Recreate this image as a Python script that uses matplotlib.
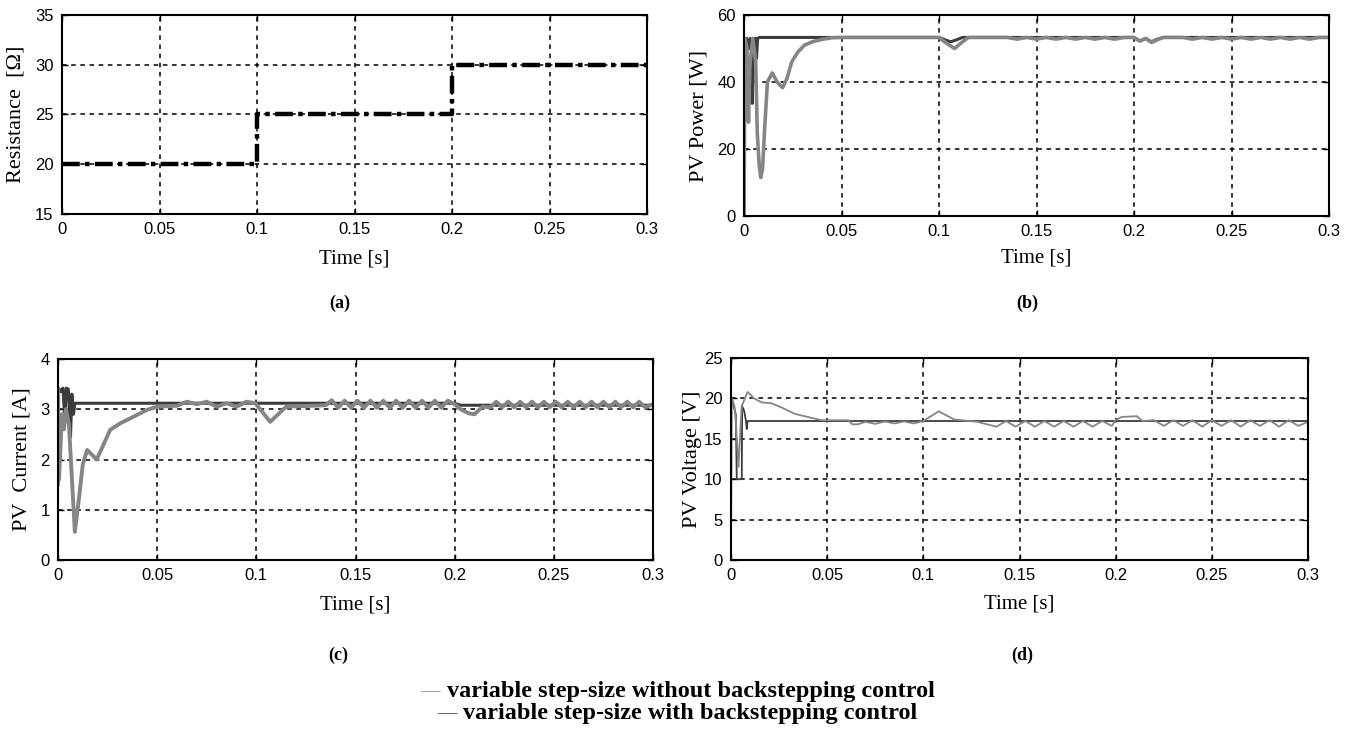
import matplotlib
matplotlib.use("Agg")
import matplotlib.pyplot as plt

# ---- data ----
res_t = [0, 0.1, 0.1, 0.2, 0.2, 0.3]
res_val = [20, 20, 25, 25, 30, 30]

# PV power, with backstepping (dark)
pw_bs_t = [0, 0.0002, 0.0015, 0.0025, 0.0032, 0.0038, 0.0042, 0.0048, 0.0055, 0.006, 0.0064, 0.007,
           0.0078, 0.1, 0.103, 0.106, 0.109, 0.112, 0.2, 0.203, 0.206, 0.209, 0.212, 0.215, 0.3]
pw_bs = [0, 53, 53, 50, 53, 52, 33.6, 45, 53, 53, 47, 53,
         53.3, 53.3, 52.6, 52.0, 52.6, 53.3, 53.3, 52.3, 53.0, 52.0, 52.8, 53.3, 53.3]

# PV power, without backstepping (gray)
pw_nb_t = [0, 0.0005, 0.0015, 0.0023, 0.003, 0.0045, 0.006, 0.0068, 0.0078, 0.0086, 0.0095, 0.0105,
           0.012, 0.0145, 0.017, 0.0198, 0.022, 0.0245, 0.0277, 0.031, 0.035, 0.039, 0.045, 0.05,
           0.06, 0.1, 0.104, 0.108, 0.111, 0.115, 0.135, 0.14, 0.145, 0.15, 0.155, 0.16, 0.165,
           0.17, 0.175, 0.18, 0.185, 0.19, 0.195, 0.2, 0.203, 0.206, 0.209, 0.212, 0.215, 0.225,
           0.23, 0.235, 0.24, 0.245, 0.25, 0.255, 0.26, 0.265, 0.27, 0.275, 0.28, 0.285, 0.29,
           0.295, 0.3]
pw_nb = [0, 53, 50, 28, 45, 53, 46, 25, 15, 11.5, 14, 25,
         40, 42.7, 40, 38.3, 41, 46, 49, 51, 52, 52.6, 53.2, 53.3,
         53.3, 53.3, 51.5, 50.0, 51.5, 53.3, 53.3, 52.8, 53.3, 52.8, 53.3, 52.8, 53.3,
         52.8, 53.3, 52.8, 53.3, 52.8, 53.3, 53.3, 52.2, 53.0, 51.8, 52.6, 53.3, 53.3,
         52.8, 53.3, 52.8, 53.3, 52.8, 53.3, 52.8, 53.3, 52.8, 53.3, 52.8, 53.3, 52.8,
         53.3, 53.3]

# PV current, with backstepping (dark)
cur_bs_t = [0, 0.0003, 0.0015, 0.0025, 0.0034, 0.0042, 0.0052, 0.0063, 0.007, 0.0078, 0.0085,
            0.2, 0.203, 0.3]
cur_bs = [1.5, 3.42, 3.35, 3.42, 2.8, 3.42, 3.4, 2.45, 3.3, 2.9, 3.12,
          3.12, 3.08, 3.08]

# PV current, without backstepping (gray)
cur_nb_t = [0, 0.0005, 0.002, 0.003, 0.004, 0.0055, 0.0085, 0.0105, 0.0125, 0.0147, 0.017,
            0.0195, 0.023, 0.0263, 0.0314, 0.038, 0.045, 0.05, 0.06, 0.065, 0.07, 0.075, 0.08,
            0.085, 0.09, 0.095, 0.0995, 0.107, 0.115, 0.135, 0.138, 0.1413, 0.1445, 0.1478,
            0.151, 0.1543, 0.1575, 0.1608, 0.164, 0.1673, 0.1705, 0.1738, 0.177, 0.1803, 0.1835,
            0.1868, 0.19, 0.1933, 0.1965, 0.2, 0.203, 0.207, 0.21, 0.214, 0.218, 0.221, 0.224,
            0.227, 0.23, 0.233, 0.236, 0.239, 0.242, 0.245, 0.248, 0.251, 0.254, 0.257, 0.26,
            0.263, 0.266, 0.269, 0.272, 0.275, 0.278, 0.281, 0.284, 0.287, 0.29, 0.293, 0.296,
            0.3]
cur_nb = [3.4, 1.6, 2.9, 2.6, 3.0, 2.7, 0.56, 1.2, 1.9, 2.19, 2.1,
          2.0, 2.3, 2.59, 2.72, 2.85, 2.99, 3.05, 3.07, 3.15, 3.1, 3.15, 3.05,
          3.12, 3.05, 3.15, 3.12, 2.75, 3.05, 3.08, 3.18, 3.03, 3.17, 3.03,
          3.17, 3.03, 3.17, 3.03, 3.17, 3.03, 3.17, 3.03, 3.17, 3.03, 3.17,
          3.03, 3.17, 3.03, 3.17, 3.1, 3.0, 2.92, 2.9, 3.05, 3.04, 3.15, 3.04,
          3.15, 3.04, 3.15, 3.04, 3.15, 3.04, 3.15, 3.04, 3.15, 3.04, 3.15, 3.04,
          3.15, 3.04, 3.15, 3.04, 3.15, 3.04, 3.15, 3.04, 3.15, 3.04, 3.15, 3.04,
          3.1]

# PV voltage, with backstepping (dark)
vt_bs_t = [0, 0.0002, 0.001, 0.0025, 0.003, 0.0056, 0.0058, 0.0068, 0.0078, 0.0082, 0.0086, 0.3]
vt_bs = [0, 20, 19.5, 18, 10, 10, 19, 18.5, 17.2, 16.2, 17.2, 17.2]

# PV voltage, without backstepping (gray)
vt_nb_t = [0, 0.0003, 0.0012, 0.0018, 0.0024, 0.0039, 0.0055, 0.0086, 0.012, 0.016, 0.021, 0.027,
           0.033, 0.04, 0.047, 0.061, 0.063, 0.066, 0.07, 0.075, 0.08, 0.085, 0.09, 0.095,
           0.1, 0.108, 0.116, 0.128, 0.138, 0.143, 0.148, 0.153, 0.158, 0.163, 0.168, 0.173,
           0.178, 0.183, 0.188, 0.193, 0.198, 0.2, 0.203, 0.211, 0.214, 0.22, 0.225, 0.23,
           0.235, 0.24, 0.245, 0.25, 0.255, 0.26, 0.265, 0.27, 0.275, 0.28, 0.285, 0.29,
           0.295, 0.3]
vt_nb = [0, 20, 19.5, 19.0, 17.5, 11.5, 19, 20.8, 20.0, 19.5, 19.4, 18.8,
         18.1, 17.7, 17.3, 17.3, 16.8, 16.8, 17.1, 16.85, 17.15, 16.9, 17.15, 16.9,
         17.2, 18.4, 17.4, 17.1, 16.5, 17.2, 16.5, 17.2, 16.5, 17.2, 16.5, 17.2,
         16.5, 17.2, 16.5, 17.2, 16.6, 17.3, 17.7, 17.8, 17.2, 17.3, 16.6, 17.3,
         16.6, 17.3, 16.5, 17.3, 16.6, 17.3, 16.5, 17.3, 16.6, 17.3, 16.5, 17.3,
         16.6, 17.1]

t_ticks = [0, 0.05, 0.1, 0.15, 0.2, 0.25, 0.3]
t_labels = ["0", "0.05", "0.1", "0.15", "0.2", "0.25", "0.3"]

legend_nb = "variable step-size without backstepping control"
legend_bs = "variable step-size with backstepping control"

DARK = "#3c3c3c"
GRAY = "#858585"
W, H = 1349, 734

fig = plt.figure(figsize=(W / 100, H / 100), dpi=100)


def rect(x0, y0, x1, y1):
    return [x0 / W, 1 - y1 / H, (x1 - x0) / W, (y1 - y0) / H]


def style(ax, ylim, yticks, ylabel, ylab_x, xlab_y):
    ax.set_xlim(0, 0.3)
    ax.set_ylim(*ylim)
    ax.set_xticks(t_ticks)
    ax.set_xticklabels(t_labels)
    ax.set_yticks(yticks)
    ax.tick_params(direction="in", length=4, width=1, top=True, right=True,
                   labelsize=12, pad=6, colors="black")
    for lab in ax.get_xticklabels() + ax.get_yticklabels():
        lab.set_family(["Liberation Sans", "DejaVu Sans"])
    ax.grid(True, color="black", linestyle=(0, (3, 3)), linewidth=1.1)
    for sp in ax.spines.values():
        sp.set_linewidth(1.5)
    ax.set_xlabel("Time [s]", family="Liberation Serif", fontsize=15)
    ax.set_ylabel(ylabel, family="Liberation Serif", fontsize=16)
    ax.yaxis.set_label_coords(ylab_x, 0.5)
    ax.xaxis.set_label_coords(0.5, xlab_y)


ax_a = fig.add_axes(rect(62, 15, 647, 214))
ax_a.plot(res_t, res_val, color="black", lw=3.2, linestyle=(0, (4, 1.2, 1, 1.2)))
style(ax_a, (15, 35), [15, 20, 25, 30, 35], "Resistance  [Ω]", -0.062, -0.18)

ax_b = fig.add_axes(rect(744, 15, 1329, 216))
ax_b.plot(pw_bs_t, pw_bs, color=DARK, lw=2.2)
ax_b.plot(pw_nb_t, pw_nb, color=GRAY, lw=2.6)
style(ax_b, (0, 60), [0, 20, 40, 60], "PV Power [W]", -0.06, -0.16)

ax_c = fig.add_axes(rect(58, 359, 653, 560))
ax_c.plot(cur_bs_t, cur_bs, color=DARK, lw=2.2)
ax_c.plot(cur_nb_t, cur_nb, color=GRAY, lw=2.8)
style(ax_c, (0, 4), [0, 1, 2, 3, 4], "PV  Current [A]", -0.044, -0.175)

ax_d = fig.add_axes(rect(731, 358, 1308, 560))
ax_d.plot(vt_bs_t, vt_bs, color=DARK, lw=1.3)
ax_d.plot(vt_nb_t, vt_nb, color=GRAY, lw=1.3)
style(ax_d, (0, 25), [0, 5, 10, 15, 20, 25], "PV Voltage [V]", -0.05, -0.173)

# panel letters
for lab, px, py in [("(a)", 340, 303), ("(b)", 1027, 303), ("(c)", 338, 655), ("(d)", 1022, 655)]:
    fig.text(px / W, 1 - py / H, lab, ha="center", va="center",
             family="Liberation Serif", fontweight="bold", fontsize=13)

# legend lines under the panels
for dash_x, txt_x, py, col, txt in [(420, 447, 692, GRAY, legend_nb), (437, 463, 714, DARK, legend_bs)]:
    fig.text(dash_x / W, 1 - py / H, "\u2014", ha="left", va="center", color=col,
             family="Liberation Serif", fontsize=14)
    fig.text(txt_x / W, 1 - py / H, txt, ha="left", va="center", color="black",
             family="Liberation Serif", fontweight="bold", fontsize=17.5)

fig.savefig("out.png", dpi=100)
